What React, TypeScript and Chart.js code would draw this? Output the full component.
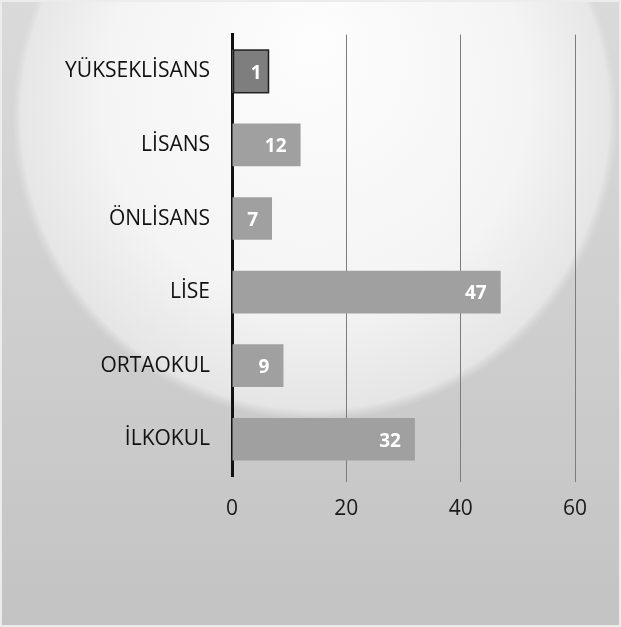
import React, { useEffect, useRef } from "react";
import { Chart, registerables } from "chart.js";

Chart.register(...registerables);

const categories = ["YÜKSEKLİSANS", "LİSANS", "ÖNLİSANS", "LİSE", "ORTAOKUL", "İLKOKUL"];
const values = [1, 12, 7, 47, 9, 32];
const xMin = 0;
const xMax = 60;
const xStep = 20;

const W = 621;
const H = 627;
const FONT = "'Open Sans', 'Noto Sans', sans-serif";

const backgroundPlugin = {
  id: "paperBackground",
  beforeDraw(chart: any) {
    const { ctx } = chart;
    ctx.save();
    const lin = ctx.createLinearGradient(0, 0, 0, H);
    lin.addColorStop(0, "#dadada");
    lin.addColorStop(1, "#c3c3c3");
    ctx.fillStyle = lin;
    ctx.fillRect(0, 0, W, H);
    const cx = 315, cy = 118, r = 303;
    const rad = ctx.createRadialGradient(cx, cy - 80, 0, cx, cy, r);
    rad.addColorStop(0, "rgba(253,253,253,1)");
    rad.addColorStop(0.7, "rgba(244,244,244,1)");
    rad.addColorStop(0.97, "rgba(232,232,232,0.9)");
    rad.addColorStop(1, "rgba(225,225,225,0)");
    ctx.fillStyle = rad;
    ctx.fillRect(0, 0, W, H);
    ctx.strokeStyle = "#ececec";
    ctx.lineWidth = 2;
    ctx.strokeRect(1, 1, W - 2, H - 2);
    ctx.restore();
  },
};

const labelPlugin = {
  id: "barValueLabels",
  afterDatasetsDraw(chart: any) {
    const { ctx } = chart;
    const meta = chart.getDatasetMeta(0);
    ctx.save();
    ctx.font = `bold 19px ${FONT}`;
    ctx.textBaseline = "middle";
    ctx.textAlign = "right";
    meta.data.forEach((bar: any, i: number) => {
      const text = String(values[i]);
      const tw = ctx.measureText(text).width;
      const props = bar.getProps(["x", "y", "base", "height"], true);
      let right = props.x - 14;
      if (props.x - props.base < tw + 24) {
        const boxRight = props.base + 36;
        const top = props.y - props.height / 2;
        ctx.fillStyle = "#7e7e7e";
        ctx.fillRect(props.base + 1, top, boxRight - props.base - 1, props.height);
        ctx.strokeStyle = "#1e1e1e";
        ctx.lineWidth = 1.5;
        ctx.strokeRect(props.base + 1, top, boxRight - props.base - 1, props.height);
        right = boxRight - 7;
      }
      ctx.fillStyle = "#ffffff";
      ctx.fillText(text, right, props.y + 2);
    });
    ctx.restore();
  },
};

export default function App() {
  const ref = useRef<HTMLCanvasElement | null>(null);

  useEffect(() => {
    if (!ref.current) return;
    const chart = new Chart(ref.current, {
      type: "bar",
      data: {
        labels: categories,
        datasets: [
          {
            data: values,
            backgroundColor: "#a0a0a0",
            borderWidth: 0,
            categoryPercentage: 1,
            barPercentage: 0.58,
          },
        ],
      },
      options: {
        indexAxis: "y",
        responsive: false,
        animation: false,
        layout: { padding: { left: 0, top: 29, right: 46, bottom: 0 } },
        plugins: { legend: { display: false }, tooltip: { enabled: false } },
        scales: {
          x: {
            min: xMin,
            max: xMax,
            ticks: {
              stepSize: xStep,
              color: "#1a1a1a",
              font: { family: FONT, size: 21 },
              padding: 14,
            },
            grid: {
              color: (c: any) => (c.index === 0 ? "rgba(0,0,0,0)" : "#7c7c7c"),
              lineWidth: 1,
              drawTicks: true,
              tickLength: 6,
            },
            border: { display: false },
            afterFit: (s: any) => {
              s.height = 151;
            },
          },
          y: {
            ticks: {
              color: "#111111",
              font: { family: FONT, size: 21 },
              padding: 22,
            },
            grid: { display: false, drawTicks: false },
            border: { display: true, color: "#111111", width: 3 },
            afterFit: (s: any) => {
              s.width = 232;
            },
          },
        },
      },
      plugins: [backgroundPlugin, labelPlugin],
    });
    return () => chart.destroy();
  }, []);

  return (
    <div style={{ position: "fixed", left: 0, top: 0, width: W, height: H }}>
      <canvas ref={ref} width={W} height={H} />
    </div>
  );
}
